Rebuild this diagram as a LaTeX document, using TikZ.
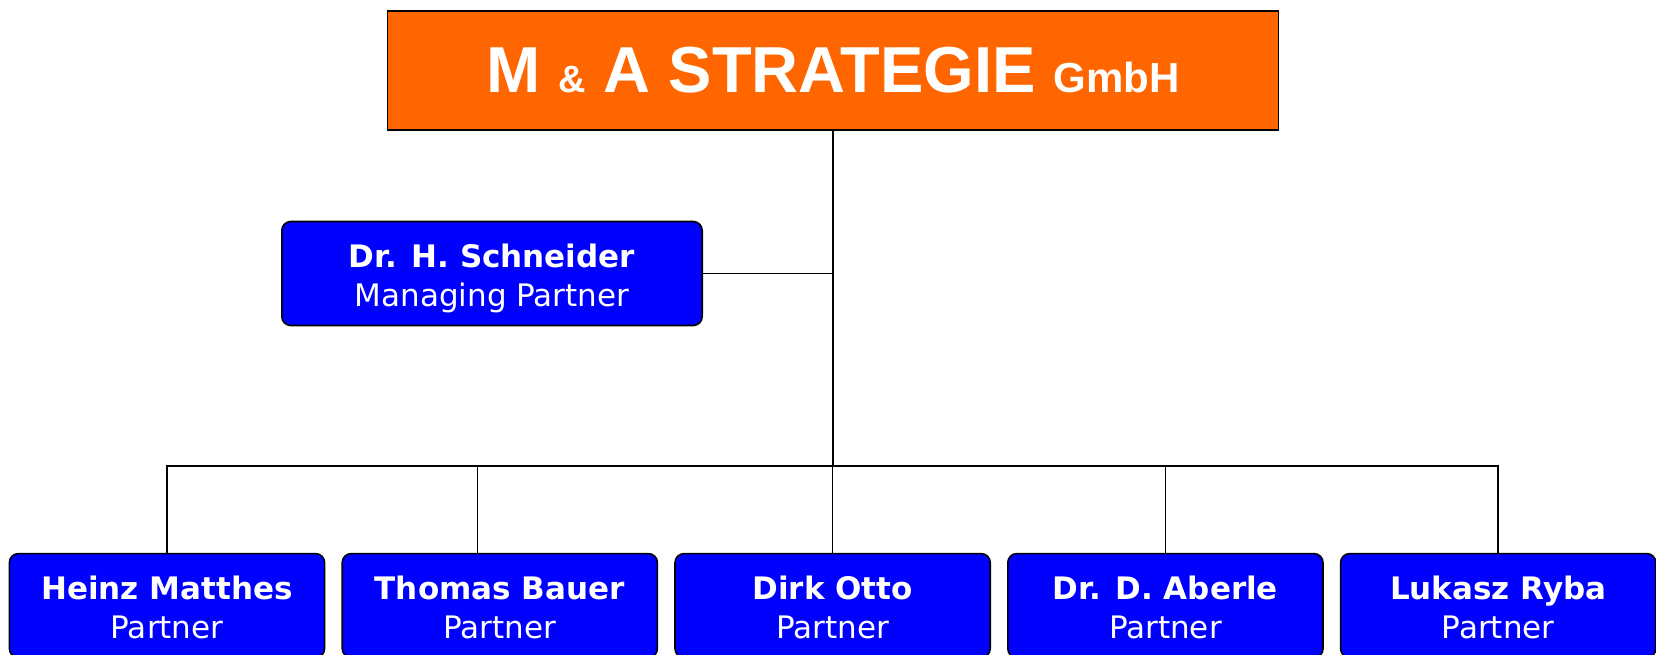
\documentclass[tikz,border=0pt]{standalone}
\usepackage{fontspec}
\setmainfont{DejaVu Sans}
\newfontfamily\titlefont{Liberation Sans}
\usetikzlibrary{positioning}
\definecolor{maorange}{HTML}{FF6600}
\definecolor{mablue}{HTML}{0000FF}
\tikzset{
  titlebox/.style={draw=black, line width=1.6pt, fill=maorange, text=white, minimum width=890.9pt, minimum height=119pt, inner sep=0pt},
  partnerbox/.style={draw=black, line width=1.6pt, fill=mablue, text=white, rounded corners=9pt, minimum width=315.2pt, minimum height=104pt, inner sep=0pt, align=center, text height=65pt, text depth=0pt, font=\fontsize{31}{39}\selectfont},
  link/.style={line width=1.5pt}
}

\begin{document}
\begin{tikzpicture}[x=1pt,y=-1pt]
	\useasboundingbox (0,0) rectangle (1656,654);
	\node[titlebox] (ma) at (833,70.5) {\titlefont\bfseries\fontsize{65}{65}\selectfont M {\fontsize{38}{38}\selectfont\&} A STRATEGIE {\fontsize{42}{42}\selectfont GmbH}};
	\node[partnerbox, minimum width=420.4pt] (hs) at (492,273.5) {\textbf{Dr. H. Schneider}\\Managing Partner};
	%partners
	\node[partnerbox, anchor=north] (hm) at (167,552.8) {\textbf{Heinz Matthes}\\Partner};
	\node[partnerbox, right=16pt of hm] (tb) {\textbf{Thomas Bauer}\\Partner};
	\node[partnerbox, right=16pt of tb] (do) {\textbf{Dirk Otto}\\Partner};
	\node[partnerbox, right=16pt of do] (da) {\textbf{Dr. D. Aberle}\\Partner};
	\node[partnerbox, right=16pt of da] (lr) {\textbf{Lukasz Ryba}\\Partner};
	%lines
	\coordinate (bus) at (833,466);
	\coordinate (tbtop) at ([xshift=-22.3pt]tb.north);
	\draw[link] (ma.south) -- (bus);
	\draw[link] (hs.east) -- (hs.east -| ma.south);
	\draw[link] (hm.north) -- (hm.north |- bus) -- (lr.north |- bus) -- (lr.north);
	\draw[link] (tbtop) -- (tbtop |- bus);
	\draw[link] (do.north) -- (do.north |- bus);
	\draw[link] (da.north) -- (da.north |- bus);
\end{tikzpicture}
\end{document}
